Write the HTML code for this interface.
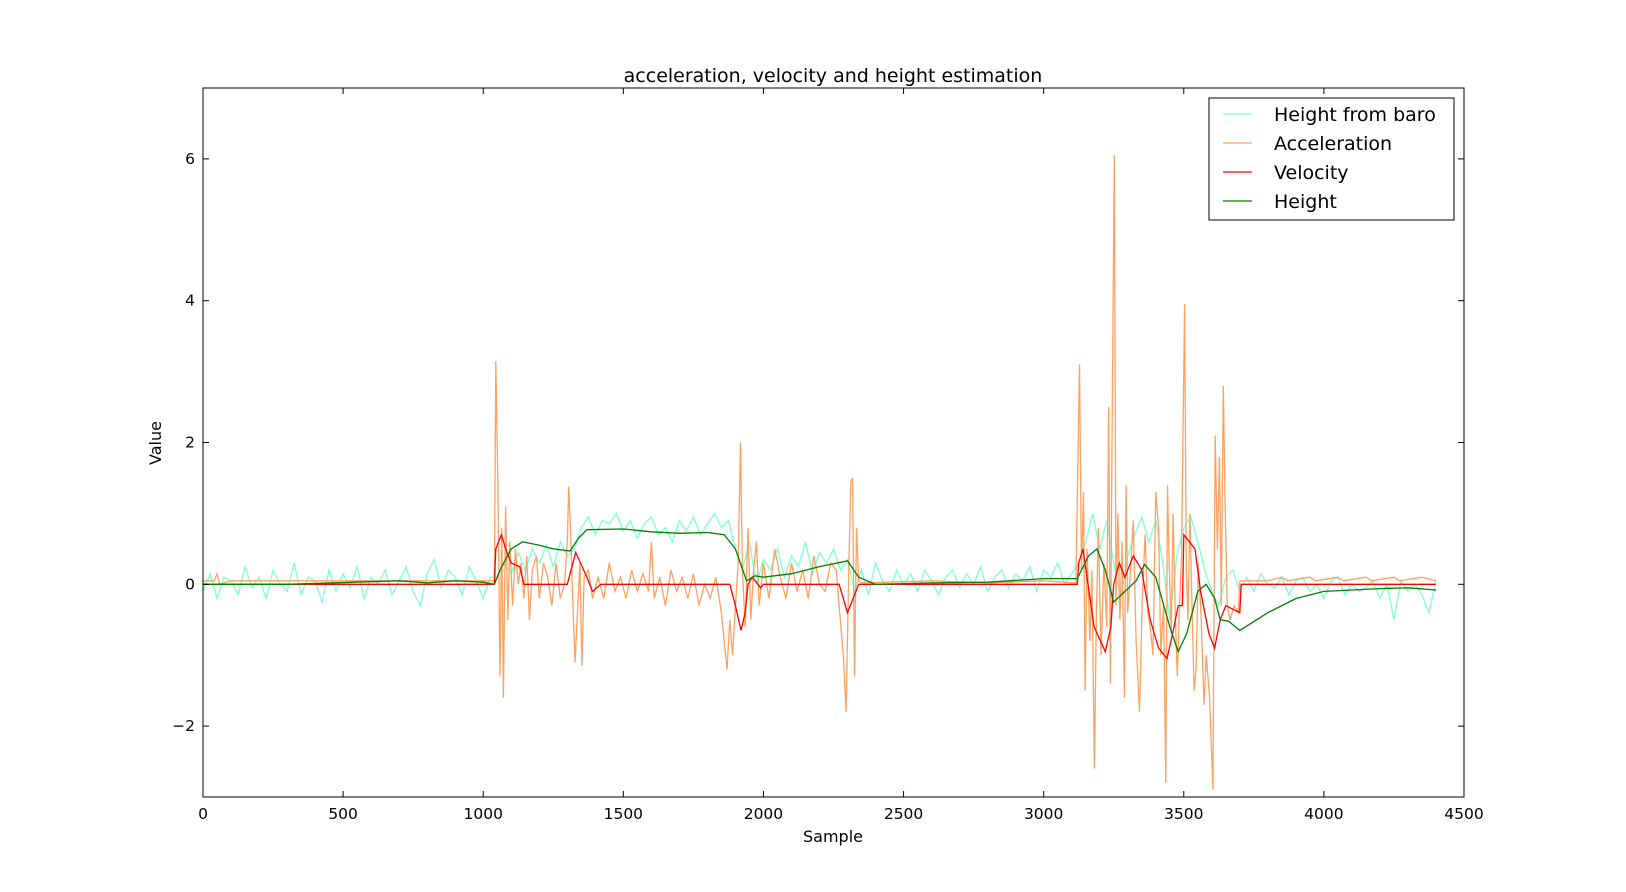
<!DOCTYPE html>
<html><head><meta charset="utf-8"><style>
body{margin:0;background:#fff;}
svg text{font-family:"DejaVu Sans","Liberation Sans",sans-serif;fill:#000;}
</style></head><body>
<svg id="chart" width="1626" height="887" xmlns="http://www.w3.org/2000/svg">
<rect width="1626" height="887" fill="#fff"/>
<text x="833" y="82" font-size="19" text-anchor="middle">acceleration, velocity and height estimation</text>
<g id="plot"></g>
<g id="axes"></g>
<text x="833" y="842" font-size="16" text-anchor="middle">Sample</text>
<text x="161" y="443" font-size="16" text-anchor="middle" transform="rotate(-90 161 443)">Value</text>
<g>
<rect x="1209" y="98" width="245" height="122" fill="#fff" stroke="#000" stroke-width="1"/>
<g><line x1="1223" y1="114" x2="1252" y2="114" stroke="#7fffd4" stroke-width="1.3"/><text x="1274" y="121" font-size="19">Height from baro</text></g>
<g><line x1="1223" y1="143" x2="1252" y2="143" stroke="#ffa060" stroke-width="1.3"/><text x="1274" y="150" font-size="19">Acceleration</text></g>
<g><line x1="1223" y1="172" x2="1252" y2="172" stroke="#ff0000" stroke-width="1.3"/><text x="1274" y="179" font-size="19">Velocity</text></g>
<g><line x1="1223" y1="201" x2="1252" y2="201" stroke="#008000" stroke-width="1.3"/><text x="1274" y="208" font-size="19">Height</text></g>
</g>
</svg>
<script>
const xTicks=[0,500,1000,1500,2000,2500,3000,3500,4000,4500];
const yTicks=[-2,0,2,4,6];
const yTickLabels=["\u22122","0","2","4","6"];
const baroStep=25;
const baroValues=[-0.1,0.15,-0.2,0.1,0.05,-0.15,0.25,-0.05,0.1,-0.2,0.2,0.0,-0.1,0.3,-0.15,0.1,0.05,-0.25,0.2,-0.1,0.15,-0.05,0.25,-0.2,0.1,0.0,0.2,-0.15,0.05,0.25,-0.1,-0.3,0.15,0.35,-0.05,0.2,0.1,-0.15,0.25,0.05,-0.2,0.1,
0.1,0.3,0.15,0.45,0.2,0.5,0.3,0.55,0.25,0.6,0.4,0.5,
0.8,0.95,0.7,0.9,0.85,1.0,0.75,0.9,0.65,0.85,0.95,0.7,0.8,0.6,0.9,0.75,0.95,0.7,0.85,1.0,0.8,0.9,
0.5,0.2,0.6,0.0,0.35,0.2,0.5,0.1,0.4,0.25,0.6,0.15,0.45,0.3,0.5,0.2,0.35,
-0.1,0.2,-0.15,0.3,0.05,-0.1,0.2,0.0,0.15,-0.1,0.2,0.05,-0.15,0.1,0.2,-0.05,0.15,0.0,0.25,-0.1,0.1,0.2,-0.05,0.15,0.05,0.25,-0.1,0.2,0.1,0.3,0.0,0.15,
0.3,0.6,1.0,0.5,0.9,0.3,-0.2,0.4,0.7,0.95,0.6,0.9,0.3,-0.5,0.4,0.8,0.95,0.6,0.2,-0.1,-0.3,0.1,0.2,-0.1,
0.1,-0.1,0.15,0.0,-0.05,0.1,-0.15,0.05,0.1,-0.1,0.0,-0.2,0.05,0.1,-0.15,0.0,-0.1,-0.05,0.05,-0.2,0.0,-0.5,0.05,-0.1,0.0,-0.15,-0.4,0.05];
const accPoints=[[0,0.05],[40,0.05],[50,0.15],[60,0.0],[100,0.05],[1040,0.05],
[1045,3.15],[1052,1.5],[1060,-1.3],[1066,0.8],[1072,-1.6],[1080,1.1],[1088,-0.5],[1095,0.6],[1105,-0.3],[1115,0.5],[1125,0.0],[1135,0.3],[1145,-0.2],[1155,0.4],[1165,-0.5],[1175,0.2],[1190,0.4],[1200,-0.2],[1215,0.3],[1230,0.1],[1245,-0.3],[1260,0.3],[1275,-0.2],[1290,0.0],[1300,0.6],[1305,1.38],[1312,0.7],[1320,-0.3],[1328,-1.1],[1335,-0.5],[1345,0.3],[1352,-1.15],[1360,0.1],[1375,0.2],[1390,-0.2],[1410,0.1],[1430,-0.2],[1450,0.3],[1470,-0.1],[1490,0.1],[1510,-0.2],[1530,0.2],[1550,-0.1],[1570,0.15],[1590,-0.1],[1600,0.6],[1610,-0.2],[1630,0.1],[1650,-0.3],[1670,0.2],[1690,-0.1],[1710,0.1],[1730,-0.2],[1750,0.15],[1770,-0.3],[1790,0.0],[1810,-0.2],[1830,0.1],[1850,-0.4],[1860,-0.8],[1870,-1.2],[1880,-0.5],[1890,-1.0],[1900,-0.3],[1910,0.3],[1918,2.0],[1925,0.2],[1935,-0.6],[1945,0.8],[1955,-0.5],[1965,0.2],[1975,0.6],[1985,-0.3],[2000,0.3],[2020,-0.2],[2040,0.5],[2060,0.1],[2080,-0.2],[2100,0.3],[2120,-0.1],[2140,0.2],[2160,-0.2],[2180,0.4],[2200,0.0],[2220,-0.1],[2240,0.3],[2260,0.2],[2270,-0.3],[2285,-1.0],[2295,-1.8],[2305,0.3],[2312,1.45],[2318,1.5],[2325,-1.3],[2332,0.8],[2340,0.05],[2350,0.02],[2600,0.05],[2800,0.02],[3000,0.05],[3115,0.02],
[3128,3.1],[3135,0.2],[3142,1.3],[3148,-1.5],[3155,0.5],[3165,-0.8],[3172,0.2],[3181,-2.6],[3188,-0.5],[3195,0.8],[3205,-1.0],[3215,0.3],[3225,-0.6],[3232,2.5],[3238,-1.4],[3244,2.0],[3252,6.05],[3258,-0.3],[3265,1.0],[3272,-0.5],[3280,0.6],[3288,-1.6],[3294,1.4],[3300,-0.4],[3310,0.2],[3320,0.9],[3330,-0.8],[3342,-1.8],[3352,-0.2],[3362,0.7],[3372,-0.4],[3380,-0.6],[3390,-1.0],[3400,1.3],[3410,0.8],[3418,-1.0],[3428,-0.3],[3436,-2.8],[3442,1.4],[3448,0.3],[3455,-0.7],[3462,1.0],[3470,-0.5],[3477,-1.3],[3484,-0.4],[3492,0.4],[3503,3.95],[3509,0.2],[3515,-0.5],[3522,1.0],[3530,-0.4],[3537,-1.5],[3544,-1.2],[3552,0.3],[3562,-0.5],[3572,-1.7],[3580,-1.0],[3592,-1.6],[3604,-2.9],[3612,2.1],[3620,0.5],[3627,1.8],[3634,-0.3],[3641,2.8],[3648,1.0],[3655,-0.3],[3665,-0.5],[3680,-0.3],[3695,-0.4],[3700,0.05],
[3800,0.05],[3850,0.1],[3870,0.05],[3950,0.1],[3970,0.05],[4050,0.1],[4070,0.05],[4150,0.1],[4170,0.05],[4250,0.1],[4270,0.05],[4350,0.1],[4400,0.05]];
const velSamples=[0,1040,1045,1065,1080,1100,1130,1145,1300,1330,1370,1390,1420,1880,1900,1920,1935,1945,1960,1990,2000,2270,2300,2320,2340,3120,3125,3140,3180,3220,3240,3250,3270,3290,3320,3350,3380,3410,3440,3460,3480,3495,3500,3540,3560,3590,3610,3630,3650,3700,3705,4400];
const velValues=[0,0,0.5,0.7,0.5,0.3,0.25,0,0,0.45,0.1,-0.1,0,0,-0.3,-0.65,-0.4,0,0.1,-0.05,0,0,-0.4,-0.2,0,0,0.3,0.5,-0.6,-0.95,-0.6,0,0.3,0.1,0.4,0.2,-0.5,-0.9,-1.05,-0.7,-0.3,-0.3,0.7,0.5,-0.1,-0.7,-0.9,-0.5,-0.3,-0.4,0,0];
const hgtSamples=[0,300,700,800,900,1000,1040,1060,1100,1140,1200,1250,1310,1340,1370,1500,1600,1700,1800,1860,1900,1940,1970,2000,2100,2200,2300,2340,2400,2600,2800,3000,3120,3160,3190,3220,3250,3290,3330,3360,3400,3450,3480,3510,3550,3580,3610,3630,3660,3700,3800,3900,4000,4100,4200,4300,4400];
const hgtValues=[0,0,0.05,0.02,0.05,0.03,0,0.2,0.5,0.6,0.55,0.5,0.47,0.65,0.77,0.78,0.74,0.72,0.73,0.7,0.5,0.05,0.12,0.1,0.15,0.25,0.33,0.1,0,0.02,0.03,0.08,0.08,0.4,0.5,0.2,-0.25,-0.1,0.05,0.28,0.1,-0.6,-0.95,-0.7,-0.1,0,-0.2,-0.5,-0.52,-0.65,-0.4,-0.2,-0.1,-0.08,-0.06,-0.05,-0.08];

const X0=203,X1=1464,Y0=88,Y1=797,xmin=0,xmax=4500,ymin=-3,ymax=7;
function xs(v){return X0+(v-xmin)/(xmax-xmin)*(X1-X0);}
function ys(v){return Y1-(v-ymin)/(ymax-ymin)*(Y1-Y0);}
const NS="http://www.w3.org/2000/svg";
const plot=document.getElementById('plot'),axes=document.getElementById('axes');
function poly(sx,vals,color,name){
  const p=document.createElementNS(NS,'polyline');
  p.setAttribute('points',vals.map((v,i)=>xs(sx[i]).toFixed(1)+','+ys(v).toFixed(1)).join(' '));
  p.setAttribute('fill','none');p.setAttribute('stroke',color);p.setAttribute('stroke-width','1.3');
  
  
  plot.appendChild(p);
}
poly(baroValues.map((v,i)=>i*baroStep),baroValues,'#7fffd4','baro-height-line');
poly(accPoints.map(p=>p[0]),accPoints.map(p=>p[1]),'#ffa060','acceleration-line');
poly(velSamples,velValues,'#ff0000','velocity-line');
poly(hgtSamples,hgtValues,'#008000','height-line');
const fr=document.createElementNS(NS,'rect');
fr.setAttribute('x',X0);fr.setAttribute('y',Y0);fr.setAttribute('width',X1-X0);fr.setAttribute('height',Y1-Y0);
fr.setAttribute('fill','none');fr.setAttribute('stroke','#000');fr.setAttribute('stroke-width','1');


axes.appendChild(fr);
function ln(a,b,c,d){const l=document.createElementNS(NS,'line');l.setAttribute('x1',a);l.setAttribute('y1',b);l.setAttribute('x2',c);l.setAttribute('y2',d);l.setAttribute('stroke','#000');


axes.appendChild(l);}
function tx(x,y,s,anchor,name){const t=document.createElementNS(NS,'text');t.setAttribute('x',x);t.setAttribute('y',y);t.setAttribute('font-size','15.5');t.setAttribute('text-anchor',anchor);t.textContent=s;


axes.appendChild(t);}
xTicks.forEach(v=>{const x=xs(v);ln(x,Y1,x,Y1-6);ln(x,Y0,x,Y0+6);tx(x,Y1+22,String(v),'middle','x-tick-label');});
yTicks.forEach((v,i)=>{const y=ys(v);ln(X0,y,X0+6,y);ln(X1,y,X1-6,y);tx(X0-8,y+5,yTickLabels[i],'end','y-tick-label');});
</script>
</body></html>
